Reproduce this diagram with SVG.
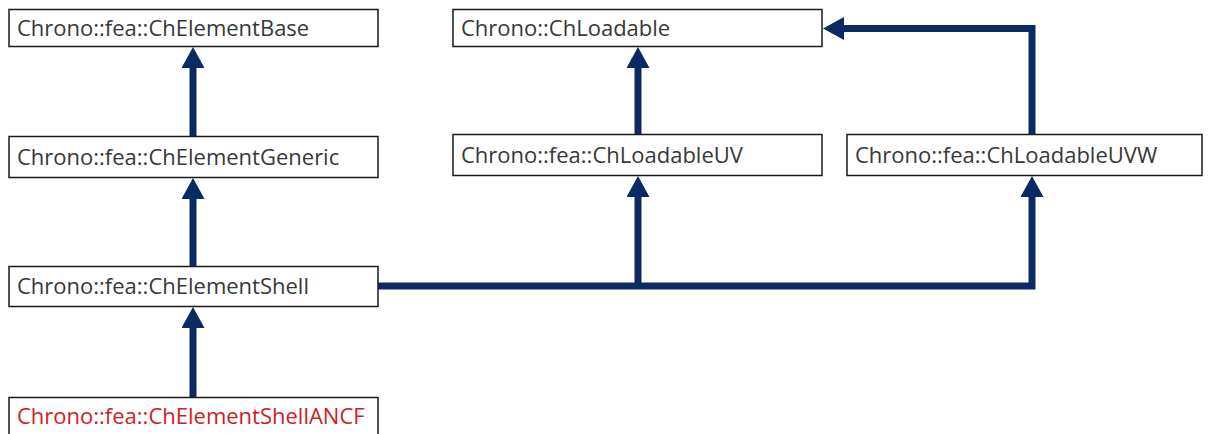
<svg xmlns="http://www.w3.org/2000/svg" width="1216" height="434" viewBox="0 0 1216 434">
  <style>
    .box { fill: #ffffff; stroke: #1a1a1a; stroke-width: 1.5; }
    .label { font-family: "Open Sans", "Liberation Sans", sans-serif; font-size: 22px; fill: #383838; }
    .hl { fill: #d01c24; }
    .edge { fill: none; stroke: #0b2a63; stroke-width: 7; stroke-linejoin: miter; stroke-linecap: butt; }
  </style>
  <defs>
    <!-- solid inheritance arrowhead; its base sits on the end of the line, the tip runs 20px further -->
    <marker id="arrow" viewBox="0 0 21 23" refX="1" refY="11.5" markerWidth="21" markerHeight="23" markerUnits="userSpaceOnUse" orient="auto">
      <path d="M0,0 L21,11.5 L0,23 Z" fill="#0b2a63"/>
    </marker>
  </defs>
  <rect width="1216" height="434" fill="#ffffff"/>

  <g id="connectors">
    <path class="edge" d="M193,136.5 V67" marker-end="url(#arrow)"/>
    <path class="edge" d="M193,266 V198" marker-end="url(#arrow)"/>
    <path class="edge" d="M193,397 V327" marker-end="url(#arrow)"/>
    <path class="edge" d="M638,134.5 V67" marker-end="url(#arrow)"/>
    <path class="edge" d="M1032,134.5 V28.5 H843" marker-end="url(#arrow)"/>
    <path class="edge" d="M378,286 H1032 V196" marker-end="url(#arrow)"/>
    <path class="edge" d="M638,286 V196" marker-end="url(#arrow)"/>
  </g>

  <g id="node-elementbase">
    <rect class="box" x="9" y="9.5" width="369" height="37"/>
    <text class="label" x="17" y="36">Chrono::fea::ChElementBase</text>
  </g>
  <g id="node-loadable">
    <rect class="box" x="453" y="9.5" width="369" height="37"/>
    <text class="label" x="461" y="36">Chrono::ChLoadable</text>
  </g>
  <g id="node-elementgeneric">
    <rect class="box" x="9" y="136.5" width="369" height="41"/>
    <text class="label" x="17" y="165">Chrono::fea::ChElementGeneric</text>
  </g>
  <g id="node-loadableuv">
    <rect class="box" x="453" y="134.5" width="369" height="41"/>
    <text class="label" x="461" y="163">Chrono::fea::ChLoadableUV</text>
  </g>
  <g id="node-loadableuvw">
    <rect class="box" x="847" y="134.5" width="355" height="41"/>
    <text class="label" x="855" y="163">Chrono::fea::ChLoadableUVW</text>
  </g>
  <g id="node-elementshell">
    <rect class="box" x="9" y="266.5" width="369" height="40"/>
    <text class="label" x="17" y="294">Chrono::fea::ChElementShell</text>
  </g>
  <g id="node-elementshellancf">
    <rect class="box" x="9" y="397.5" width="369" height="40"/>
    <text class="label hl" x="17" y="424">Chrono::fea::ChElementShellANCF</text>
  </g>
</svg>
